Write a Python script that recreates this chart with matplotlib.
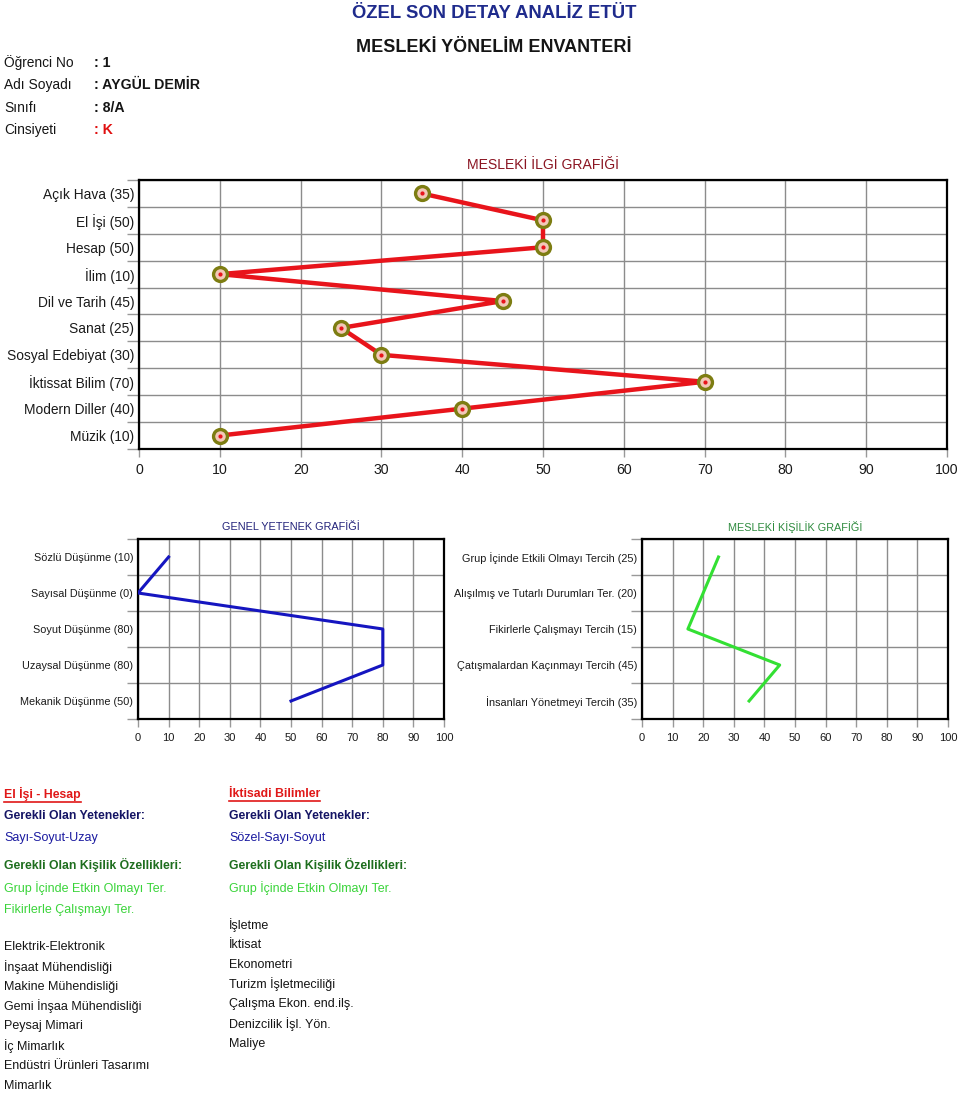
import matplotlib
matplotlib.use("Agg")
import matplotlib.pyplot as plt
from matplotlib.ticker import FixedLocator
from matplotlib.lines import Line2D

plt.rcParams['font.family'] = ['Liberation Sans', 'DejaVu Sans']

W, H = 960, 1094
DPI = 100

# ---------------- data ----------------
interest_names = ["Açık Hava", "El İşi", "Hesap", "İlim", "Dil ve Tarih", "Sanat",
                  "Sosyal Edebiyat", "İktissat Bilim", "Modern Diller", "Müzik"]
interest_values = [35, 50, 50, 10, 45, 25, 30, 70, 40, 10]

ability_names = ["Sözlü Düşünme", "Sayısal Düşünme", "Soyut Düşünme",
                 "Uzaysal Düşünme", "Mekanik Düşünme"]
ability_values = [10, 0, 80, 80, 50]

personality_names = ["Grup İçinde Etkili Olmayı Tercih", "Alışılmış ve Tutarlı Durumları Ter.",
                     "Fikirlerle Çalışmayı Tercih", "Çatışmalardan Kaçınmayı Tercih",
                     "İnsanları Yönetmeyi Tercih"]
personality_values = [25, 20, 15, 45, 35]

x_ticks = list(range(0, 101, 10))

info_keys = ["Öğrenci No", "Adı Soyadı", "Sınıfı", "Cinsiyeti"]
info_values = [": 1", ": AYGÜL DEMİR", ": 8/A", ": K"]

left_title = "El İşi - Hesap"
left_skills = "Sayı-Soyut-Uzay"
left_traits = ["Grup İçinde Etkin Olmayı Ter.", "Fikirlerle Çalışmayı Ter."]
left_jobs = ["Elektrik-Elektronik", "İnşaat Mühendisliği", "Makine Mühendisliği",
             "Gemi İnşaa Mühendisliği", "Peysaj Mimari", "İç Mimarlık",
             "Endüstri Ürünleri Tasarımı", "Mimarlık"]

right_title = "İktisadi Bilimler"
right_skills = "Sözel-Sayı-Soyut"
right_traits = ["Grup İçinde Etkin Olmayı Ter."]
right_jobs = ["İşletme", "İktisat", "Ekonometri", "Turizm İşletmeciliği",
              "Çalışma Ekon. end.ilş.", "Denizcilik İşl. Yön.", "Maliye"]

# ---------------- figure ----------------
fig = plt.figure(figsize=(W / DPI, H / DPI), dpi=DPI)
fig.patch.set_facecolor("white")


def rect(l, t, r, b):
    return [l / W, 1 - b / H, (r - l) / W, (b - t) / H]


def fy(y):
    return 1 - y / H


def fx(x):
    return x / W


def setup_axes(ax, names, values, label_size, tick_size, minor_len):
    n = len(names)
    ax.set_xlim(0, 100)
    ax.set_ylim(n - 0.5, -0.5)
    ax.set_yticks(range(n))
    ax.set_yticklabels([f"{nm} ({v})" for nm, v in zip(names, values)])
    ax.yaxis.set_minor_locator(FixedLocator([i - 0.5 for i in range(n + 1)]))
    ax.set_xticks(x_ticks)
    ax.set_xticklabels([str(t) for t in x_ticks])
    ax.tick_params(axis='y', which='major', length=0, pad=3.5, labelsize=label_size,
                   labelcolor='#1a1a1a')
    ax.tick_params(axis='y', which='minor', length=minor_len, width=1, color='#999999')
    ax.tick_params(axis='x', which='major', length=6, width=1, color='#999999',
                   labelsize=tick_size, pad=4, labelcolor='#1a1a1a')
    ax.grid(True, axis='x', which='major', color='#8c8c8c', lw=1.0)
    ax.grid(True, axis='y', which='minor', color='#8c8c8c', lw=1.0)
    ax.set_axisbelow(True)
    for sp in ax.spines.values():
        sp.set_linewidth(1.6)
        sp.set_color('black')


# ---- top chart
ax1 = fig.add_axes(rect(139, 180, 947, 449))
setup_axes(ax1, interest_names, interest_values, 9.9, 10.2, 7)
yy = list(range(len(interest_values)))
ax1.plot(interest_values, yy, color='#e8141b', lw=3.2, zorder=3, solid_capstyle='round')
ax1.plot(interest_values, yy, ls='none', marker='o', ms=10, mfc='#f2c8b8',
         mec='#7d7d12', mew=2.4, zorder=4)
ax1.plot(interest_values, yy, ls='none', marker='o', ms=3, mfc='#e8141b',
         mec='none', zorder=5)
ax1.tick_params(axis='y', which='minor', length=9)

# ---- middle left
ax2 = fig.add_axes(rect(138, 539, 444, 719))
setup_axes(ax2, ability_names, ability_values, 7.85, 8.0, 8)
ax2.plot(ability_values, range(len(ability_values)), color='#1515c0', lw=2.2, zorder=3)

# ---- middle right
ax3 = fig.add_axes(rect(642, 539, 948, 719))
setup_axes(ax3, personality_names, personality_values, 7.85, 8.0, 8)
ax3.plot(personality_values, range(len(personality_values)), color='#33e033', lw=2.2, zorder=3)

# ---------------- titles ----------------
fig.text(fx(494), fy(13), "ÖZEL SON DETAY ANALİZ ETÜT", ha='center', va='center',
         fontsize=13.3, fontweight='bold', color='#1f2b8c')
fig.text(fx(494), fy(47), "MESLEKİ YÖNELİM ENVANTERİ", ha='center', va='center',
         fontsize=13.0, fontweight='bold', color='#151515')

fig.text(fx(543), fy(165), "MESLEKİ İLGİ GRAFİĞİ", ha='center', va='center',
         fontsize=10.1, color='#8b1522')
fig.text(fx(291), fy(527), "GENEL YETENEK GRAFİĞİ", ha='center', va='center',
         fontsize=7.8, color='#22227a')
fig.text(fx(795), fy(527), "MESLEKİ KİŞİLİK GRAFİĞİ", ha='center', va='center',
         fontsize=7.8, color='#2e8b3e')

# ---------------- info block ----------------
info_y = [63, 85, 108, 130]
for k, v, y in zip(info_keys, info_values, info_y):
    fig.text(fx(4), fy(y), k, ha='left', va='center', fontsize=9.95, color='#151515')
    fig.text(fx(94), fy(y), v, ha='left', va='center', fontsize=10.2, fontweight='bold',
             color='#e01010' if k == "Cinsiyeti" else '#151515')

# ---------------- bottom text ----------------
renderer = fig.canvas.get_renderer()


def underlined(x, y, s, **kw):
    t = fig.text(fx(x), fy(y), s, ha='left', va='center', **kw)
    bb = t.get_window_extent(renderer=renderer)
    uy = bb.y0 - 0.5
    fig.add_artist(Line2D([bb.x0 / W, bb.x1 / W], [uy / H, uy / H],
                          transform=fig.transFigure, color=kw.get('color', 'k'), lw=1.2))
    return t


def column(x, title, skills, traits, jobs, jobs_y0):
    fs = 9.0
    fsb = 8.85
    underlined(x, 794, title, fontsize=fsb, fontweight='bold', color='#e01818')
    fig.text(fx(x), fy(816), "Gerekli Olan Yetenekler:", ha='left', va='center',
             fontsize=fsb, fontweight='bold', color='#141464')
    fig.text(fx(x), fy(838), skills, ha='left', va='center', fontsize=fs, color='#1a1aa0')
    fig.text(fx(x), fy(865), "Gerekli Olan Kişilik Özellikleri:", ha='left', va='center',
             fontsize=fsb, fontweight='bold', color='#1e6e1e')
    for i, tr in enumerate(traits):
        fig.text(fx(x), fy(888 + 22 * i), tr, ha='left', va='center', fontsize=fs,
                 color='#3ad43a')
    for i, jb in enumerate(jobs):
        fig.text(fx(x), fy(jobs_y0 + 19.8 * i), jb, ha='left', va='center', fontsize=fs,
                 color='#151515')


column(4, left_title, left_skills, left_traits, left_jobs, 947)
column(229, right_title, right_skills, right_traits, right_jobs, 925)

fig.savefig("out.png", dpi=DPI)
